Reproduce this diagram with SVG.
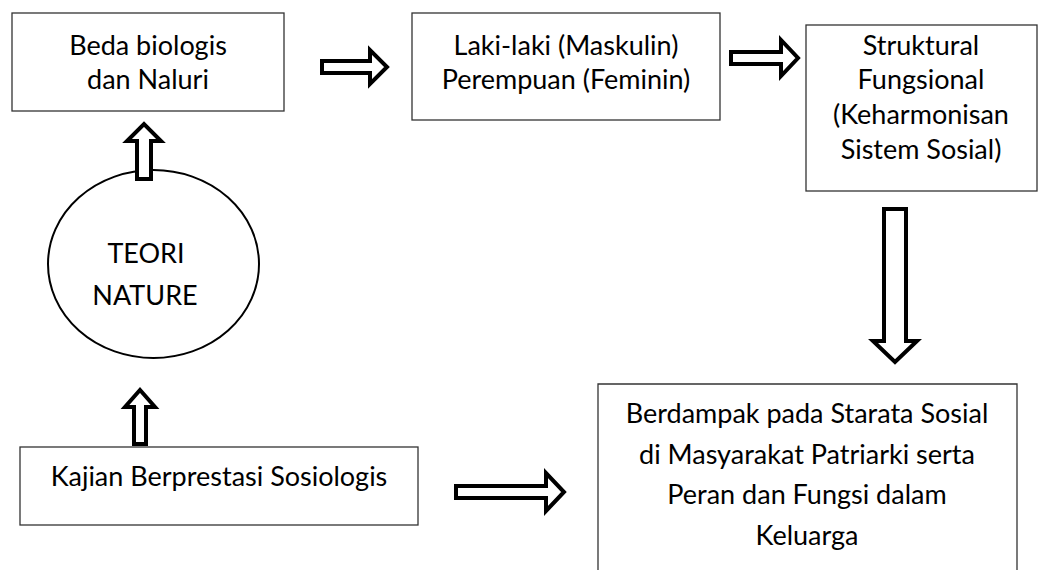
<svg xmlns="http://www.w3.org/2000/svg" width="1059" height="570" viewBox="0 0 1059 570">
<style>
.box{fill:#fff;stroke:#333;stroke-width:1.3}
.ell{fill:#fff;stroke:#000;stroke-width:2}
.arr{fill:#fff;stroke:#000;stroke-width:4;stroke-linejoin:miter}
text{font-family:Lato,"Open Sans","Liberation Sans",sans-serif;font-size:27px;fill:#000;text-anchor:middle}
</style>
<rect width="1059" height="570" fill="#fff"/>
<g id="n-beda">
<rect class="box" x="12" y="13" width="272" height="98"/>
<text x="148" y="55">Beda biologis</text>
<text x="148" y="89">dan Naluri</text>
</g>
<g id="n-laki">
<rect class="box" x="412" y="13" width="308" height="107"/>
<text x="566" y="55">Laki-laki (Maskulin)</text>
<text x="566" y="89">Perempuan (Feminin)</text>
</g>
<g id="n-struktural">
<rect class="box" x="806" y="25" width="231" height="166"/>
<text x="921" y="55">Struktural</text>
<text x="921" y="89">Fungsional</text>
<text x="921" y="124">(Keharmonisan</text>
<text x="921" y="159">Sistem Sosial)</text>
</g>
<g id="n-teori">
<ellipse class="ell" cx="153.5" cy="264" rx="105.5" ry="94"/>
<text x="146" y="263">TEORI</text>
<text x="145" y="305">NATURE</text>
</g>
<g id="n-kajian">
<rect class="box" x="20" y="447" width="398" height="78"/>
<text x="219" y="486">Kajian Berprestasi Sosiologis</text>
</g>
<g id="n-berdampak">
<path class="box" d="M598,575 V384 H1017 V575"/>
<text x="807" y="423">Berdampak pada Starata Sosial</text>
<text x="807" y="464">di Masyarakat Patriarki serta</text>
<text x="807" y="504">Peran dan Fungsi dalam</text>
<text x="807" y="545">Keluarga</text>
</g>
<g id="connectors">
<path class="arr" d="M322,61 H370 V50 L387,67 L370,84 V73 H322 Z"/>
<path class="arr" d="M731,52 H781 V40 L798,58 L781,76 V64 H731 Z"/>
<path class="arr" d="M137,179 V141 H127 L144,124 L161,141 H151 V179 Z"/>
<path class="arr" d="M134,444 V407 H125 L140,390 L155,407 H146 V444 Z"/>
<path class="arr" d="M456,486 H546 V473 L564,492 L546,511 V498 H456 Z"/>
<path class="arr" d="M884,209 H906 V341 H917 L895,362 L873,341 H884 Z"/>
</g>
</svg>
